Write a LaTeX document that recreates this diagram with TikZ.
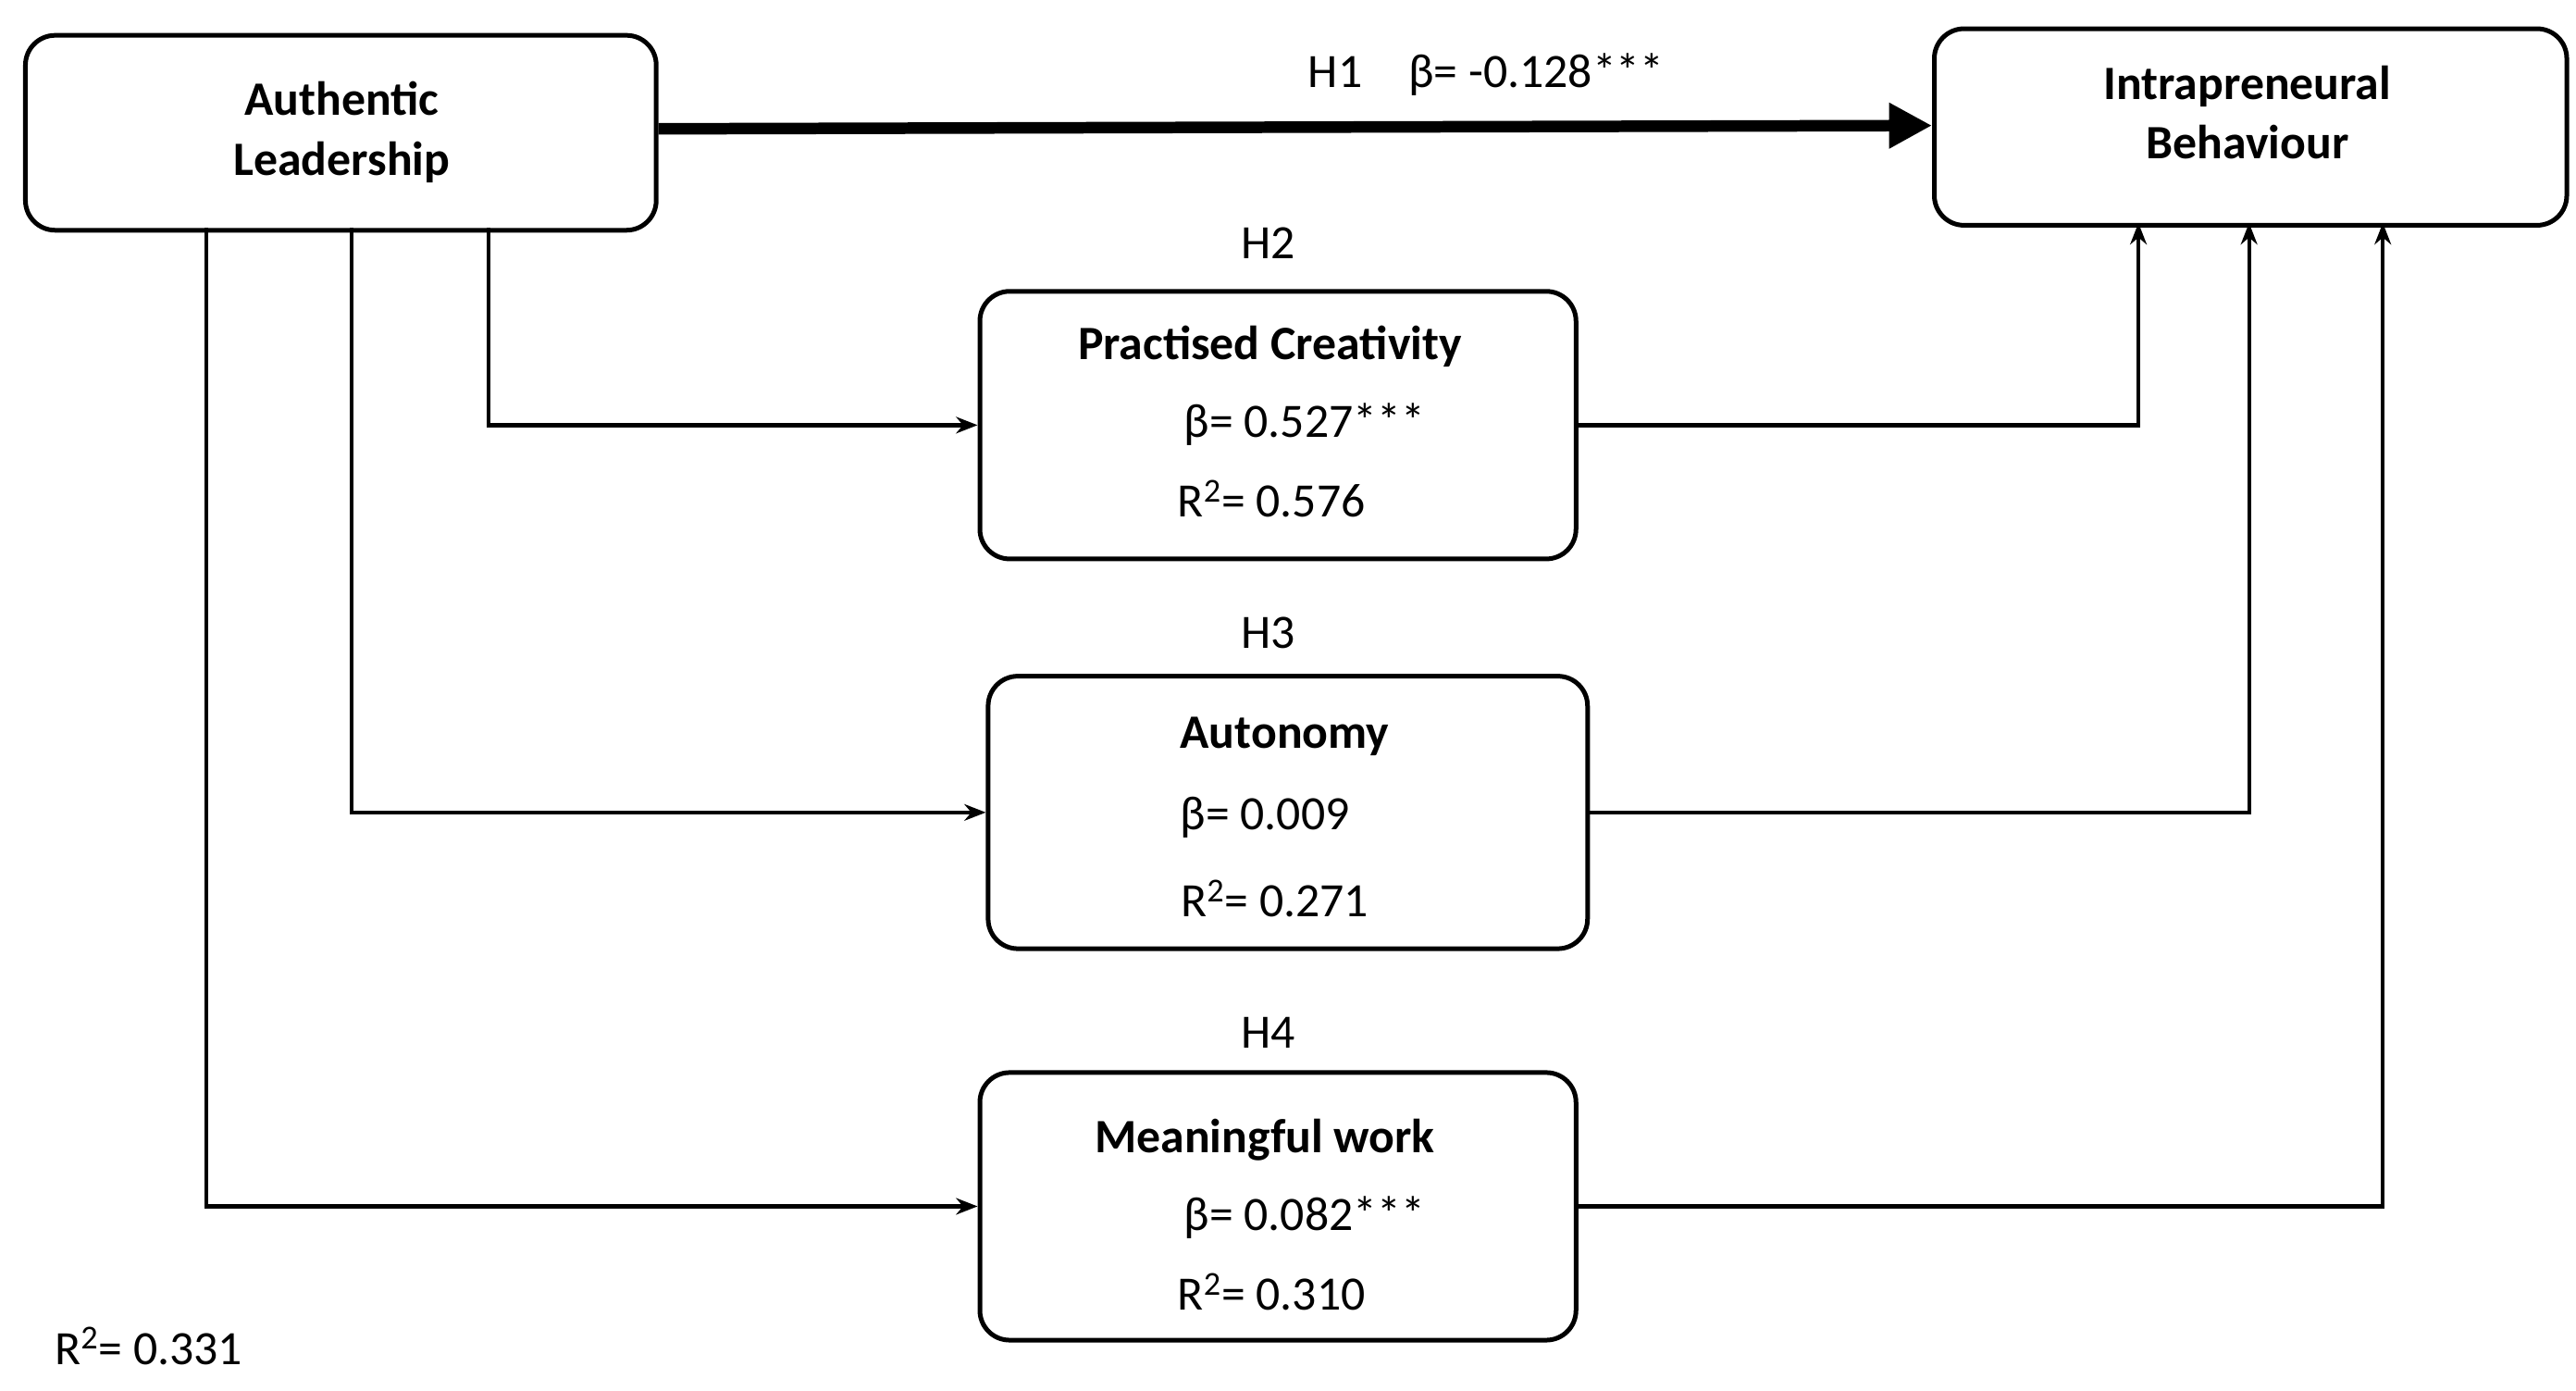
\documentclass[tikz,border=0pt]{standalone}
\usepackage{fontspec}
\setmainfont{Carlito}
\usetikzlibrary{arrows.meta}
\begin{document}
\begin{tikzpicture}[x=1pt,y=-1pt,
  box/.style={draw,line width=2.8pt,rounded corners=18pt,anchor=north west,inner sep=0pt},
  txt/.style={font=\fontsize{29}{34}\selectfont,inner sep=0pt},
  btxt/.style={font=\fontsize{29}{34}\selectfont\bfseries,inner sep=0pt},
  conn/.style={line width=2.4pt,-{Stealth[length=13pt,width=10pt]}}]
\useasboundingbox (0,0) rectangle (1560,842);
\node[box,minimum width=382pt,minimum height=118pt] (al) at (14,20) {};
\node[btxt,align=center] at (207,80) {Authentic\\[2pt]Leadership};
\node[box,minimum width=383pt,minimum height=119pt] (ib) at (1170,16) {};
\node[btxt,align=center] at (1361,68) {Intrapreneural\\[2pt]Behaviour};
\node[box,minimum width=361pt,minimum height=162pt] (pc) at (592,175) {};
\node[btxt] at (769,210) {Practised Creativity};
\node[txt] at (790,257) {β= 0.527***};
\node[txt] at (770,302) {R\textsuperscript{2}= 0.576};
\node[box,minimum width=363pt,minimum height=165pt] (au) at (597,408) {};
\node[btxt] at (778,446) {Autonomy};
\node[txt] at (766,495) {β= 0.009};
\node[txt] at (772,544) {R\textsuperscript{2}= 0.271};
\node[box,minimum width=361pt,minimum height=162pt] (mw) at (592,648) {};
\node[btxt] at (766,690) {Meaningful work};
\node[txt] at (790,737) {β= 0.082***};
\node[txt] at (770,782) {R\textsuperscript{2}= 0.310};
\node[txt] at (900,45) {H1\hspace{28pt}β= -0.128***};
\node[txt] at (768,147) {H2};
\node[txt] at (768,383) {H3};
\node[txt] at (768,625) {H4};
\node[txt] at (90,815) {R\textsuperscript{2}= 0.331};
\coordinate (a1) at (296,138);
\coordinate (a2) at (213,138);
\coordinate (a3) at (125,138);
\draw[line width=7pt,-{Triangle[length=26pt,width=26pt]}] (al.east|-0,78) -- (ib.west|-0,76);
\draw[conn] (a1) |- (pc.west);
\draw[conn] (a2) |- (au.west);
\draw[conn] (a3) |- (mw.west);
\draw[conn] (pc.east) -| (1295,135);
\draw[conn] (au.east) -| (1362,135);
\draw[conn] (mw.east) -| (1443,135);
\end{tikzpicture}
\end{document}
